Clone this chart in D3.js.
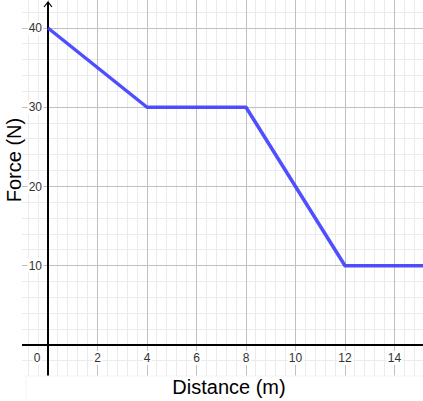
<!DOCTYPE html>
<html><head><meta charset="utf-8">
<script src="https://cdn.jsdelivr.net/npm/d3@7"></script>
<style>body{margin:0;background:#fff}svg{display:block;font-family:"Liberation Sans",Arial,sans-serif}</style>
</head><body>
<svg id="c" width="423" height="401"></svg>
<script>
const distance = [0, 4, 8, 12, 15.3];
const force = [40, 30, 30, 10, 10];
const xTicks = [0, 2, 4, 6, 8, 10, 12, 14];
const yTicks = [10, 20, 30, 40];
const xLabel = "Distance (m)";
const yLabel = "Force (N)";

const svg = d3.select("#c");
const gx0 = 22, gx1 = 423, gy0 = 0, gy1 = 376;
const x = d3.scaleLinear().domain([0, 12]).range([48, 345]);
const y = d3.scaleLinear().domain([0, 40]).range([345, 28]);
const xmin = x.invert(gx0), xmax = x.invert(gx1);
const ymin = y.invert(gy1), ymax = y.invert(gy0);

const g = svg.append("g");
// minor grid
const minorX = d3.range(Math.ceil(xmin / 0.4) * 0.4, xmax, 0.4);
const minorY = d3.range(Math.ceil(ymin / 2) * 2, ymax, 2);
g.selectAll(".mx").data(minorX).join("line")
  .attr("x1", d => x(d)).attr("x2", d => x(d)).attr("y1", gy0).attr("y2", gy1)
  .attr("stroke", "#ebebeb").attr("stroke-width", 1).attr("shape-rendering", "crispEdges");
g.selectAll(".my").data(minorY).join("line")
  .attr("x1", gx0).attr("x2", gx1).attr("y1", d => y(d)).attr("y2", d => y(d))
  .attr("stroke", "#ebebeb").attr("stroke-width", 1).attr("shape-rendering", "crispEdges");
// major grid
const majorX = d3.range(Math.ceil(xmin / 2) * 2, xmax, 2);
const majorY = d3.range(Math.ceil(ymin / 10) * 10, ymax, 10);
g.selectAll(".Mx").data(majorX).join("line")
  .attr("x1", d => x(d)).attr("x2", d => x(d)).attr("y1", gy0).attr("y2", gy1)
  .attr("stroke", "#c0c0c0").attr("stroke-width", 1).attr("shape-rendering", "crispEdges");
g.selectAll(".My").data(majorY).join("line")
  .attr("x1", gx0).attr("x2", gx1).attr("y1", d => y(d)).attr("y2", d => y(d))
  .attr("stroke", "#c0c0c0").attr("stroke-width", 1).attr("shape-rendering", "crispEdges");

// axes
svg.append("line").attr("x1", gx0).attr("x2", gx1).attr("y1", y(0)).attr("y2", y(0))
  .attr("stroke", "#000").attr("stroke-width", 1.3).attr("shape-rendering", "crispEdges");
svg.append("line").attr("x1", x(0)).attr("x2", x(0)).attr("y1", 2).attr("y2", gy1)
  .attr("stroke", "#000").attr("stroke-width", 1.3).attr("shape-rendering", "crispEdges");
svg.append("path").attr("d", `M${x(0)-4},${7} L${x(0)},${2} L${x(0)+4},${7}`)
  .attr("fill", "none").attr("stroke", "#000").attr("stroke-width", 1.2);

// tick labels
const tl = svg.append("g").attr("font-size", 12).attr("fill", "#333");
xTicks.forEach(t => {
  const cx = t === 0 ? x(0) - 11 : x(t);
  const txt = tl.append("text").attr("x", cx).attr("y", y(0) + 17).attr("text-anchor", "middle").text(t);
  const bb = txt.node().getBBox();
  tl.insert("rect", "text").attr("x", bb.x - 1).attr("y", bb.y).attr("width", bb.width + 2).attr("height", bb.height).attr("fill", "#fff");
});
yTicks.forEach(t => {
  const txt = tl.append("text").attr("x", x(0) - 6).attr("y", y(t) + 4).attr("text-anchor", "end").text(t);
  const bb = txt.node().getBBox();
  tl.insert("rect", "text").attr("x", bb.x - 1).attr("y", bb.y).attr("width", bb.width + 2).attr("height", bb.height).attr("fill", "#fff");
});

// data line
const pts = distance.map((d, i) => [d, force[i]]);
svg.append("path").datum(pts)
  .attr("d", d3.line().x(d => x(d[0])).y(d => y(d[1])))
  .attr("fill", "none").attr("stroke", "#4040ff").attr("stroke-opacity", 0.92)
  .attr("stroke-width", 3.5).attr("stroke-linejoin", "round");

// label box at bottom
svg.append("rect").attr("x", 26).attr("y", gy1).attr("width", 400).attr("height", 30)
  .attr("fill", "#fff").attr("stroke", "#f4f4f4");
svg.append("text").attr("x", 229).attr("y", 394).attr("text-anchor", "middle")
  .attr("font-size", 20).attr("fill", "#000").text(xLabel);
svg.append("text").attr("transform", "translate(21,160) rotate(-90)").attr("text-anchor", "middle")
  .attr("font-size", 20).attr("fill", "#000").text(yLabel);
</script>
</body></html>
